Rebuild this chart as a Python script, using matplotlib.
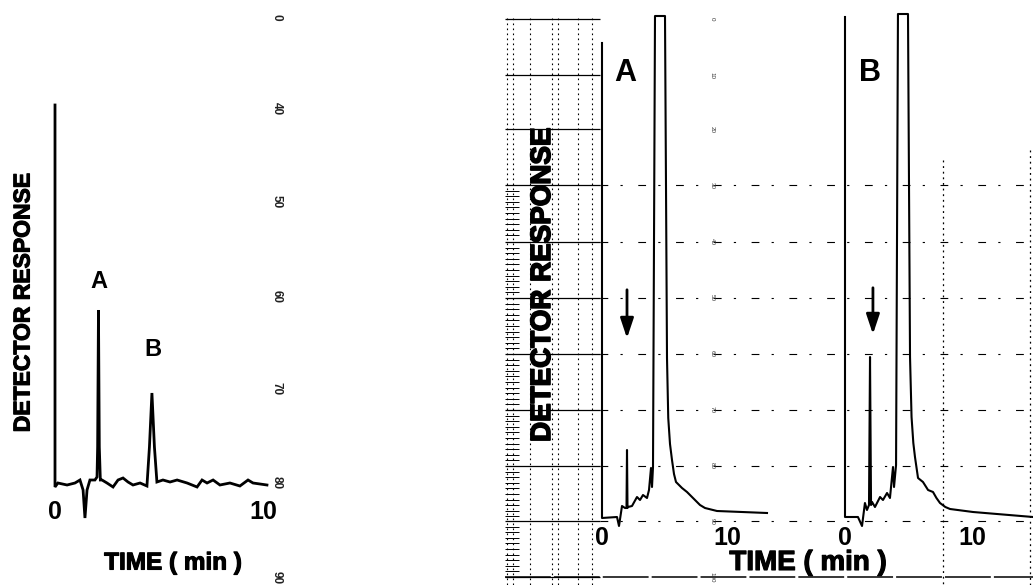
import matplotlib.pyplot as plt
import matplotlib.patheffects as pe

plt.rcParams['font.family'] = ['Liberation Sans', 'DejaVu Sans']

# -------- data (time in min, detector response in arbitrary units) --------
left_time = [0.0, 0.0, 0.14, 0.58, 0.96, 1.2, 1.35, 1.44, 1.54, 1.68, 1.92, 2.02,
             2.05, 2.09, 2.13, 2.18, 2.26, 2.5, 2.79, 3.03, 3.27, 3.51, 3.75,
             4.09, 4.42, 4.54, 4.66, 4.78, 4.9, 5.19, 5.53, 5.87, 6.35, 6.83,
             7.07, 7.31, 7.6, 7.93, 8.41, 8.89, 9.28, 9.52, 10.19]
left_resp = [378, -4, 0, -2, 0, 3, -7, -35, -7, 3, 3, 6,
             36, 173, 36, 3, 3, 0, -4, 3, 5, 1, -2,
             0, -3, 36, 90, 36, 1, 3, 1, 3, 0, -4,
             3, 0, 3, -2, 0, -3, 3, 0, -2]

a_time = [0.0, 0.0, 1.2, 1.36, 1.6, 1.84, 1.96, 2.0, 2.04, 2.08, 2.4, 2.8, 3.04,
          3.28, 3.6, 3.76, 3.92, 4.0, 4.08, 4.24, 5.04, 5.2, 5.3, 5.44, 5.6,
          5.76, 5.92, 6.16, 6.4, 6.8, 7.04, 7.44, 7.84, 8.24, 9.2, 13.2]
a_resp = [475, 0, 1, -8, 12, 10, 10, 68, 10, 11, 12, 21, 18,
          23, 20, 28, 50, 31, 51, 502, 502, 160, 100, 74, 58,
          44, 36, 33, 30, 26, 23, 18, 13, 10, 7, 5]

b_time = [0.0, 0.0, 1.02, 1.34, 1.57, 1.73, 1.89, 1.97, 2.05, 2.13, 2.36, 2.76,
          2.99, 3.31, 3.54, 3.78, 3.86, 4.02, 4.17, 4.96, 5.12, 5.24, 5.38,
          5.51, 5.75, 6.14, 6.54, 6.93, 7.2, 7.48, 7.9, 8.27, 10.08, 14.8]
b_resp = [500, 0, 0, -9, 14, 7, 12, 160, 12, 15, 10, 20,
          17, 24, 19, 50, 30, 52, 503, 503, 160, 100, 74,
          60, 39, 35, 27, 25, 19, 14, 10, 8, 5, 0]

time_ticks = [0, 10]
paper_rows = [19, 75, 129, 185, 242, 298, 354, 410, 466, 521, 577]
paper_nums_left = ["0", "40", "50", "60", "70", "80", "90"]
paper_nums_right = ["0", "10", "20", "30", "40", "50", "60", "70", "80", "90", "100"]

W, H = 1033, 585
fig = plt.figure(figsize=(W / 100, H / 100), dpi=100)

# background axes in pixel units for the chart paper
bg = fig.add_axes([0, 0, 1, 1], zorder=0)
bg.set_xlim(0, W)
bg.set_ylim(H, 0)
bg.axis('off')


def panel(box, origin, ppm):
    L, T, R, B = box
    x0, y0 = origin
    ax = fig.add_axes([L / W, (H - B) / H, (R - L) / W, (B - T) / H], zorder=2)
    ax.set_xlim((L - x0) / ppm, (R - x0) / ppm)
    ax.set_ylim(y0 - B, y0 - T)
    ax.axis('off')
    return ax


ax1 = panel((20, 80, 300, 545), (55, 483), 20.8)
axA = panel((590, 5, 790, 545), (602, 518), 12.5)
axB = panel((835, 5, 1033, 545), (845, 517), 12.7)

# -------- chart paper --------
bg.hlines(paper_rows, 505, 600, color="black", lw=0.9)
bg.hlines(paper_rows[3:10], 600, 1033, color="black", lw=0.8,
          linestyles=(0, (7, 11, 2, 14)))
bg.hlines([577], 505, 1033, color="black", lw=1.1, linestyles=(0, (30, 2)))
minor = [y + k * 5.6 for y in paper_rows[3:10] for k in range(1, 10)]
bg.hlines(minor, 505, 519, color="black", lw=0.7)
for x in [507, 513, 530, 552, 558, 578, 592]:
    bg.vlines(x, 18, 585, color="black", lw=0.8, linestyles=(0, (1.5, 3)))
bg.vlines(943, 160, 585, color="black", lw=0.9, linestyles=(0, (1.5, 3)))
bg.vlines(1030, 150, 585, color="black", lw=0.9, linestyles=(0, (1.5, 3)))

for s, y in zip(paper_nums_left, [17, 109, 202, 296, 389, 483, 578]):
    bg.text(277, y, s, rotation=270, ha="center", va="center", fontsize=8.5,
            fontweight="bold", color="#222222")
for s, y in zip(paper_nums_right, paper_rows):
    bg.text(712, y, s, rotation=270, ha="center", va="center", fontsize=4.5,
            color="#333333")

# -------- traces --------
ax1.plot(left_time, left_resp, color="black", lw=2.0, solid_joinstyle="miter")
axA.plot(a_time, a_resp, color="black", lw=1.5)
axB.plot(b_time, b_resp, color="black", lw=1.5)

bold = dict(fontweight="bold", ha="center", va="center", color="black")

# left chart labels
ax1.text(2.09, 201, "A", fontsize=17, **bold)
ax1.text(4.7, 133, "B", fontsize=17, **bold)
for t in time_ticks:
    ax1.text(t, -29, str(t), fontsize=18, **bold)
bg.text(23, 303, "DETECTOR RESPONSE", rotation=90, fontsize=16.5,
        path_effects=[pe.withStroke(linewidth=0.8, foreground="black")], **bold)
bg.text(173, 563, "TIME ( min )", fontsize=17.5,
        path_effects=[pe.withStroke(linewidth=0.8, foreground="black")], **bold)

# right chart labels
axA.text(1.84, 445, "A", fontsize=22, **bold)
axB.text(1.97, 444, "B", fontsize=22, **bold)
for t in time_ticks:
    axA.text(t, -20, str(t), fontsize=18, **bold)
    axB.text(t, -21, str(t), fontsize=18, **bold)
for ax, t, r0, r1 in [(axA, 2.0, 231, 177), (axB, 2.2, 232, 180)]:
    ax.annotate("", xy=(t, r1), xytext=(t, r0),
                arrowprops=dict(arrowstyle="-|>,head_width=0.4,head_length=1.2",
                                color="black", lw=2))
bg.text(543, 285, "DETECTOR RESPONSE", rotation=90, fontsize=20, zorder=3,
        path_effects=[pe.withStroke(linewidth=1.2, foreground="black")], **bold)
bg.text(808, 563, "TIME ( min )", fontsize=20,
        path_effects=[pe.withStroke(linewidth=0.8, foreground="black")], **bold)

fig.savefig("out.png", dpi=100, facecolor="white")
